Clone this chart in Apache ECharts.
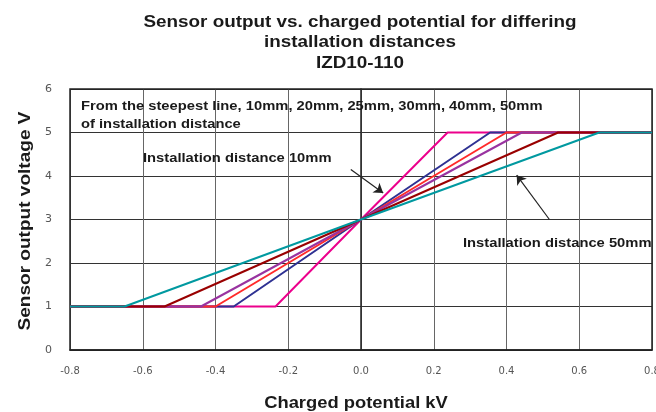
<!DOCTYPE html>
<html>
<head>
<meta charset="utf-8">
<script src="https://cdn.jsdelivr.net/npm/echarts@6/dist/echarts.min.js"></script>
<style>
  html, body { margin: 0; padding: 0; background: #fff; }
  #chart { width: 656px; height: 412px; }
</style>
</head>
<body>
<div id="chart"></div>
<script>
// installation distances, steepest line first
const distances = ['10mm', '20mm', '25mm', '30mm', '40mm', '50mm'];
// charged potential (kV) where each line reaches 1 V on the left
const lowKnee = [-0.235, -0.35, -0.40, -0.44, -0.54, -0.65];
// charged potential (kV) where each line reaches 5 V on the right
const highKnee = [0.238, 0.355, 0.40, 0.442, 0.542, 0.655];
const lineColors = ['#ec008c', '#2e3192', '#ff2a2a', '#9933a0', '#990000', '#0099a0'];
const xTicks = [-0.8, -0.6, -0.4, -0.2, 0.0, 0.2, 0.4, 0.6, 0.8];

const chart = echarts.init(document.getElementById('chart'));

// 每条线: 左端1V平台 -> 过(0,3) -> 右端5V平台
const series = distances.map((d, i) => ({
  name: d,
  type: 'line',
  showSymbol: false,
  silent: true,
  z: 2 + i,
  lineStyle: { color: lineColors[i], width: 2 },
  data: [[-0.8, 1], [lowKnee[i], 1], [0, 3], [highKnee[i], 5], [0.8, 5]]
}));

// 箭头注释
series.push({
  type: 'line',
  data: [],
  z: 10,
  markLine: {
    silent: true,
    symbol: ['none', 'arrow'],
    symbolSize: 9,
    label: { show: false },
    lineStyle: { color: '#222', width: 1.2, type: 'solid' },
    data: [
      [{ coord: [-0.028, 4.15] }, { coord: [0.061, 3.61] }],
      [{ coord: [0.518, 3.0] }, { coord: [0.428, 4.02] }]
    ]
  }
});

const sans = '"Liberation Sans", Arial, sans-serif';

// 原图文字横向略拉伸, 用 scaleX 模拟
function label(text, x, y, size, opts) {
  opts = opts || {};
  return {
    type: 'text',
    x: x,
    y: y,
    scaleX: opts.scaleX || 1.18,
    rotation: opts.rotation || 0,
    z: 20,
    silent: true,
    style: {
      text: text,
      font: 'bold ' + size + 'px ' + sans,
      fill: '#1a1a1a',
      align: opts.align || 'left',
      verticalAlign: opts.verticalAlign || 'top',
      lineHeight: opts.lineHeight
    }
  };
}

const option = {
  animation: false,
  grid: { left: 70, right: 4, top: 89, bottom: 62, outerBoundsMode: 'none' },
  xAxis: {
    type: 'value',
    min: -0.8,
    max: 0.8,
    interval: 0.2,
    axisLine: { show: true, lineStyle: { color: '#222', width: 1.5 } },
    axisTick: { show: false },
    axisLabel: {
      margin: 16,
      fontFamily: '"DejaVu Sans", sans-serif',
      fontSize: 10,
      color: '#555',
      formatter: v => xTicks.find(t => Math.abs(t - v) < 1e-9).toFixed(1)
    },
    splitLine: { show: true, lineStyle: { color: '#666', width: 1 } }
  },
  yAxis: {
    type: 'value',
    min: 0,
    max: 6,
    interval: 1,
    axisLine: { show: true, lineStyle: { color: '#222', width: 1.5 } },
    axisTick: { show: false },
    axisLabel: {
      margin: 18,
      fontFamily: '"DejaVu Sans", sans-serif',
      fontSize: 11,
      color: '#555'
    },
    splitLine: { show: true, lineStyle: { color: '#333', width: 1 } }
  },
  graphic: [
    {
      type: 'rect',
      shape: { x: 70, y: 89, width: 582, height: 261 },
      style: { fill: 'none', stroke: '#222', lineWidth: 1.5 },
      silent: true,
      z: 1
    },
    label('Sensor output vs. charged potential for differing\ninstallation distances\nIZD10-110',
      360, 12, 16, { align: 'center', lineHeight: 20.5 }),
    label('From the steepest line, 10mm, 20mm, 25mm, 30mm, 40mm, 50mm\nof installation distance',
      81, 98, 12.5, { lineHeight: 17.6 }),
    label('Installation distance 10mm', 143, 158.5, 12.5, { verticalAlign: 'middle' }),
    label('Installation distance 50mm', 463, 244, 12.5, { verticalAlign: 'middle' }),
    label('Charged potential kV', 356, 403, 17, { align: 'center', verticalAlign: 'middle', scaleX: 1.08 }),
    label('Sensor output voltage V', 25, 221, 17, { align: 'center', verticalAlign: 'middle', rotation: Math.PI / 2, scaleX: 1.12 })
  ],
  series: series
};

chart.setOption(option);
</script>
</body>
</html>
